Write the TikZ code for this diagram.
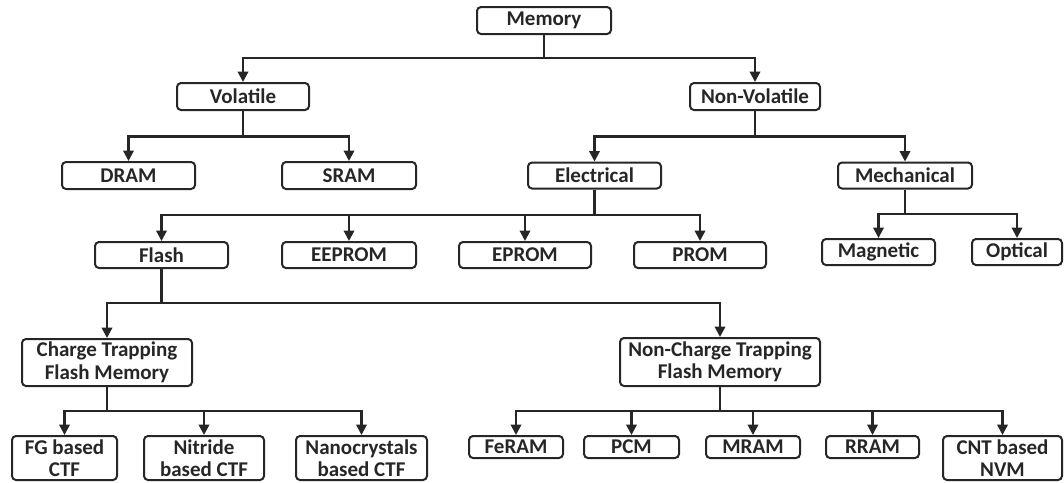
\documentclass[tikz,border=0pt]{standalone}
\usepackage{fontspec}
\setmainfont{Carlito}
\usetikzlibrary{arrows.meta}
\tikzset{
  box/.style={draw=black!85, line width=2pt, rounded corners=4pt, inner sep=0pt,
    align=center, font=\fontsize{21}{22.5}\selectfont\bfseries, text=black!85},
  conn/.style={draw=black!85, line width=2.2pt},
  arr/.style={conn, -{Triangle[length=10.5pt,width=10.5pt]}},
}
\newcommand{\bx}[6]{\node[box, minimum width=#4pt, minimum height=#5pt] (#1) at (#2,#3) {#6};}
\begin{document}
\begin{tikzpicture}[x=1pt,y=-1pt]
\useasboundingbox (0,0) rectangle (1064,482);
% nodes
\bx{mem}{544}{20.5}{134}{27}{Memory}
\bx{vol}{243}{96.5}{132}{27}{Volatile}
\bx{nvol}{755}{96.5}{130}{27}{Non-Volatile}
\bx{dram}{128.5}{175.5}{133}{27}{DRAM}
\bx{sram}{349}{175.5}{134}{27}{SRAM}
\bx{elec}{594.5}{175.5}{133}{26}{Electrical}
\bx{mech}{905}{175.5}{134}{26}{Mechanical}
\bx{flash}{161.5}{255}{133}{26}{Flash}
\bx{eeprom}{349}{255}{134}{26}{EEPROM}
\bx{eprom}{525}{255}{132}{26}{EPROM}
\bx{prom}{700}{255}{132}{26}{PROM}
\bx{magn}{878.5}{252}{113}{26}{Magnetic}
\bx{opt}{1017}{252}{90}{26}{Optical}
\bx{ctf}{107}{362.5}{170}{47}{Charge Trapping\\Flash Memory}
\bx{nctf}{720}{362}{200}{48}{Non-Charge Trapping\\Flash Memory}
\bx{fg}{64.5}{458}{105}{44}{FG based\\CTF}
\bx{nit}{204}{458}{120}{44}{Nitride\\based CTF}
\bx{nano}{361.5}{458}{131}{44}{Nanocrystals\\based CTF}
\bx{feram}{516}{447}{94}{22}{FeRAM}
\bx{pcm}{631.5}{447}{95}{22}{PCM}
\bx{mram}{753}{447}{94}{22}{MRAM}
\bx{rram}{872.5}{447}{93}{22}{RRAM}
\bx{cnt}{1002.5}{458}{119}{44}{CNT based\\NVM}
% junctions
\coordinate (jm) at (544,58);
\coordinate (jv) at (243,136.5);
\coordinate (jn) at (755,136.5);
\coordinate (je) at (594.5,215);
\coordinate (jk) at (905,214);
\coordinate (jf) at (161.5,303);
\coordinate (jc) at (107,411);
\coordinate (jt) at (720,411);
% connectors
\draw[conn] (mem.south) -- (jm);
\draw[arr] (jm) -| (vol.north);
\draw[arr] (jm) -| (nvol.north);
\draw[conn] (vol.south) -- (jv);
\draw[arr] (jv) -| (dram.north);
\draw[arr] (jv) -| (sram.north);
\draw[conn] (nvol.south) -- (jn);
\draw[arr] (jn) -| (elec.north);
\draw[arr] (jn) -| (mech.north);
\draw[conn] (elec.south) -- (je);
\draw[arr] (je) -| (flash.north);
\draw[arr] (je) -| (eeprom.north);
\draw[arr] (je) -| (eprom.north);
\draw[arr] (je) -| (prom.north);
\draw[conn] (mech.south) -- (jk);
\draw[arr] (jk) -| (magn.north);
\draw[arr] (jk) -| (opt.north);
\draw[conn] (flash.south) -- (jf);
\draw[arr] (jf) -| (ctf.north);
\draw[arr] (jf) -| (nctf.north);
\draw[conn] (ctf.south) -- (jc);
\draw[arr] (jc) -| (fg.north);
\draw[arr] (jc) -| (nit.north);
\draw[arr] (jc) -| (nano.north);
\draw[conn] (nctf.south) -- (jt);
\draw[arr] (jt) -| (feram.north);
\draw[arr] (jt) -| (pcm.north);
\draw[arr] (jt) -| (mram.north);
\draw[arr] (jt) -| (rram.north);
\draw[arr] (jt) -| (cnt.north);
\end{tikzpicture}
\end{document}
